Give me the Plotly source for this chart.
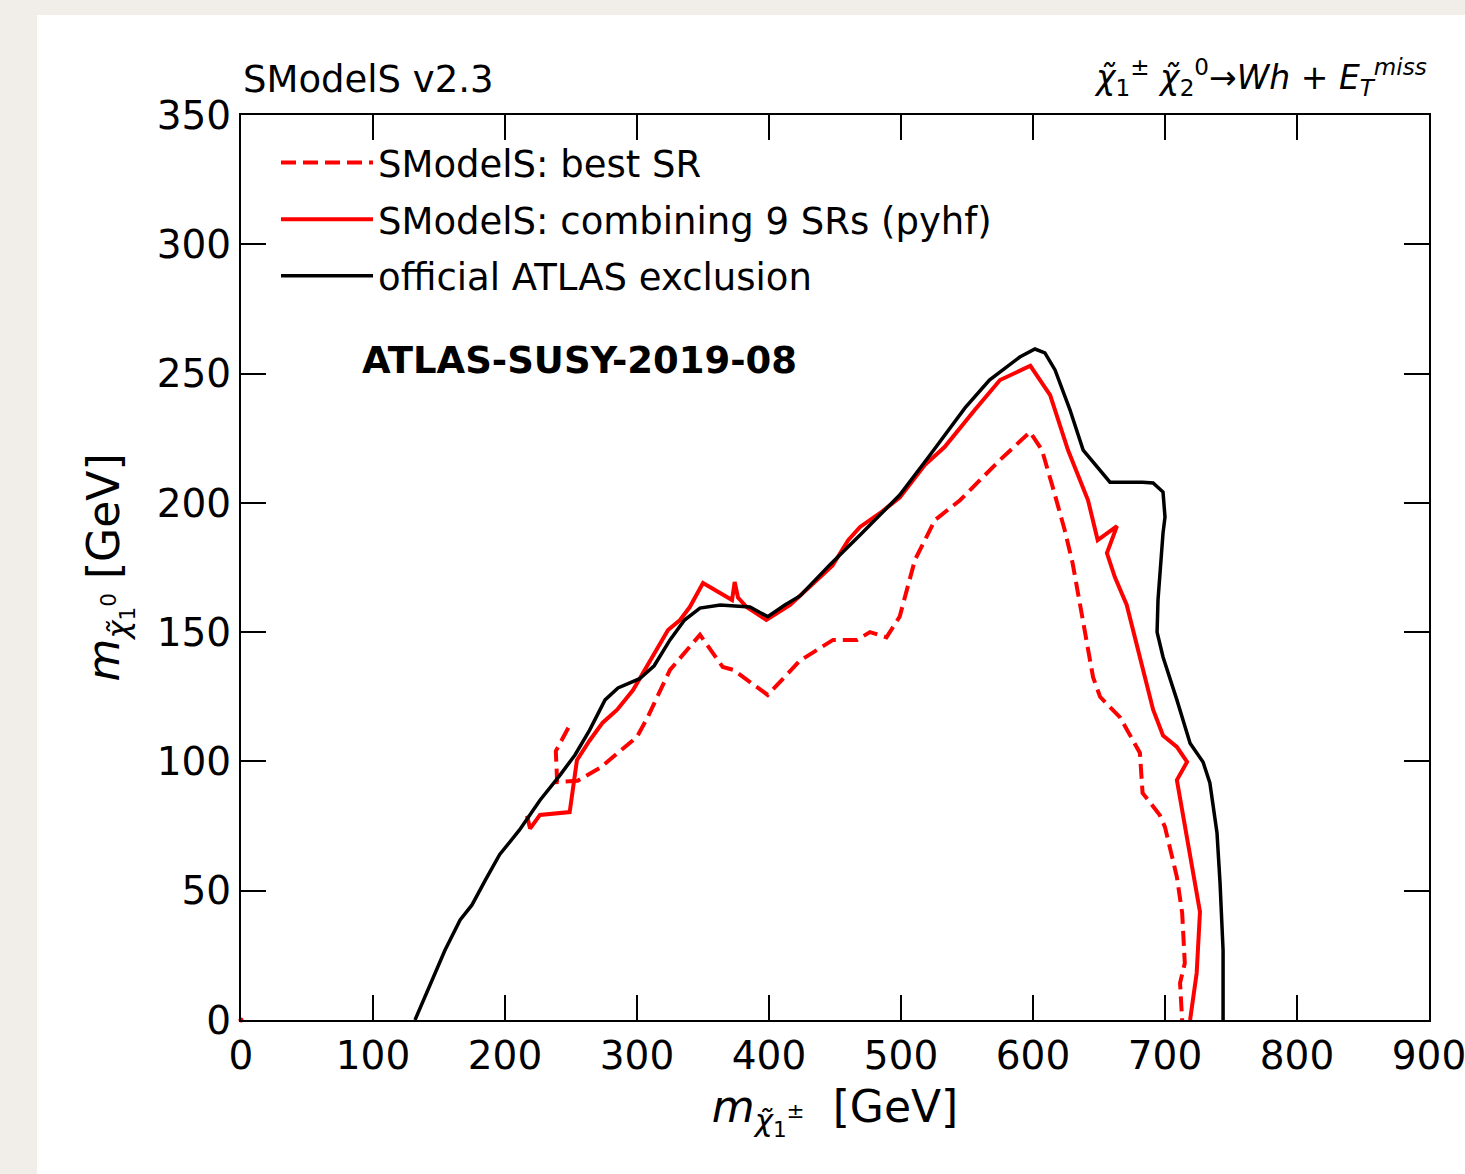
import plotly.graph_objects as go

# ---- data (GeV) ----
best_sr_x = [248, 238.5, 239.5, 255, 272, 300, 308, 325, 347.7, 365, 373, 399, 423.5, 448.5,
             466.7, 476.5, 489, 499, 510.6, 525.8, 544.7, 575, 597.7, 606.8, 615, 624, 630,
             638, 645.5, 650.8, 666, 681, 683, 696, 700, 709, 713, 715, 711.4, 713]
best_sr_y = [113, 104, 92, 92.5, 97.5, 109.5, 117, 135.4, 149, 136.5, 135.4, 125.7, 139, 147,
             147, 150, 148, 156, 178, 193.4, 201, 216.6, 227.4, 220.4, 206, 189.5, 176.7,
             154.7, 132.6, 125, 117, 103.3, 87.8, 79.3, 74.6, 55.3, 41.4, 22, 14.3, 0]

comb_x = [216.7, 219, 226.5, 249, 254.5, 264, 274, 285, 297, 310, 323.5, 332.6, 340, 350,
          372, 374, 376.5, 383, 398, 416, 423.5, 448, 460, 469, 484, 499, 518, 533, 556,
          575, 598, 613, 626.5, 641.7, 649, 663.6, 656, 662, 671, 691, 698.5, 709, 716.7,
          709, 726.5, 724, 719]
comb_y = [79, 74, 79.3, 80.4, 100.5, 108, 115, 120, 127.6, 139, 150.8, 154.7, 159.7, 169,
          162.4, 169.4, 163.4, 159.7, 154.7, 160.5, 164, 175.7, 185.6, 190.7, 196, 202,
          214.6, 221.6, 236, 247.5, 253, 241.7, 220.4, 201, 185.6, 191, 180.6, 171.3, 160.5,
          120, 110, 105.6, 99.8, 92.8, 41.8, 18.2, 0]

atlas_x = [131.8, 143, 154.5, 166, 175, 185, 196, 211, 226.5, 241.7, 253, 264, 275.8, 285.6,
           302, 313, 325, 336, 347.7, 363, 385.6, 399, 412, 423.5, 446, 469, 499, 522, 548.5,
           567, 590, 601.5, 609, 616.7, 628, 638, 650.8, 658.3, 683, 691, 698.5, 700, 698.5,
           694.7, 694, 698.5, 709, 719, 728.8, 734, 739.4, 741.7, 744, 744]
atlas_y = [0, 13.5, 27, 38.7, 44.5, 54, 64, 73.5, 85, 94.7, 102.5, 112, 123.8, 128.4,
           132, 137, 147, 154.7, 159.3, 160.5, 159.7, 156, 160.5, 164, 176, 187.6, 203, 218.5,
           236.7, 247.5, 256.4, 259.5, 258, 251.4, 236, 220.4, 212.7, 208, 208, 207.7, 204.2,
           194.5, 188.3, 162.4, 150, 140.4, 123.8, 107, 99.8, 91.7, 72.3, 53, 27, 0]

origin_x = [0]
origin_y = [0]

x_ticks = [0, 100, 200, 300, 400, 500, 600, 700, 800, 900]
y_ticks = [0, 50, 100, 150, 200, 250, 300, 350]

FONT = "DejaVu Sans"

fig = go.Figure()
fig.add_trace(go.Scatter(x=best_sr_x, y=best_sr_y, mode="lines", name="SModelS: best SR",
                         legendgroup="a",
                         line=dict(color="red", width=4, dash="15px,7px")))
fig.add_trace(go.Scatter(x=comb_x, y=comb_y, mode="lines",
                         name="SModelS: combining 9 SRs (pyhf)", legendgroup="b",
                         line=dict(color="red", width=4)))
fig.add_trace(go.Scatter(x=atlas_x, y=atlas_y, mode="lines", name="official ATLAS exclusion",
                         legendgroup="c",
                         line=dict(color="black", width=3.5)))
fig.add_trace(go.Scatter(x=origin_x, y=origin_y, mode="markers", showlegend=False,
                         marker=dict(color="red", size=5), cliponaxis=False))

W, H = 1465, 1174
L, R, T, B = 241, 36, 115, 154
pw, ph = W - L - R, H - T - B


def px(x):
    return (x - L) / pw


def py(y):
    return (H - B - y) / ph


axis_common = dict(showline=True, linecolor="black", linewidth=2, mirror="ticks",
                   ticks="inside", ticklen=25, tickwidth=2, tickcolor="black",
                   showgrid=False, zeroline=False, ticklabeloverflow="allow",
                   tickfont=dict(family=FONT, size=39, color="black"))

fig.update_xaxes(range=[0, 900], tickvals=x_ticks, ticktext=[str(v) for v in x_ticks],
                 title=dict(text="<i>m</i><sub><i>χ̃</i><sub>1</sub><sup>±</sup></sub>  [GeV]",
                            font=dict(family=FONT, size=44, color="black"), standoff=14),
                 **axis_common)
fig.update_yaxes(range=[0, 350], tickvals=y_ticks, ticktext=[str(v) for v in y_ticks],
                 title=dict(text="<i>m</i><sub><i>χ̃</i><sub>1</sub><sup>0</sup></sub> [GeV]",
                            font=dict(family=FONT, size=44, color="black"), standoff=23),
                 **axis_common)

fig.update_layout(
    width=W, height=H,
    margin=dict(l=L, r=R, t=T, b=B, autoexpand=False),
    paper_bgcolor="#f1eee9",
    plot_bgcolor="white",
    font=dict(family=FONT, color="black"),
    legend=dict(x=px(276), y=py(132), xanchor="left", yanchor="top",
                bgcolor="rgba(0,0,0,0)", borderwidth=0, itemwidth=92,
                font=dict(family=FONT, size=37, color="black"),
                traceorder="grouped", tracegroupgap=5.5),
    shapes=[dict(type="rect", xref="paper", yref="paper", layer="below",
                 x0=px(37), x1=px(1470), y0=py(1180), y1=py(15),
                 fillcolor="white", line=dict(width=0))],
    annotations=[
        dict(text="SModelS v2.3", xref="paper", yref="paper", x=0, y=py(103),
             xanchor="left", yanchor="bottom", showarrow=False,
             font=dict(family=FONT, size=37, color="black")),
        dict(text="<i>χ̃</i><sub>1</sub><sup>±</sup> <i>χ̃</i><sub>2</sub><sup>0</sup>→<i>Wh</i> + <i>E</i><sub><i>T</i></sub><sup><i>miss</i></sup>",
             xref="paper", yref="paper", x=1, y=py(103),
             xanchor="right", yanchor="bottom", showarrow=False,
             font=dict(family=FONT, size=33, color="black")),
        dict(text="<b>ATLAS-SUSY-2019-08</b>", xref="paper", yref="paper",
             x=px(360), y=py(360), xanchor="left", yanchor="middle", showarrow=False,
             font=dict(family=FONT, size=37, color="black")),
    ],
)

fig.write_html("out.html", config={"displayModeBar": False},
               post_script="document.body.style.margin='0';document.body.style.overflow='hidden';")
